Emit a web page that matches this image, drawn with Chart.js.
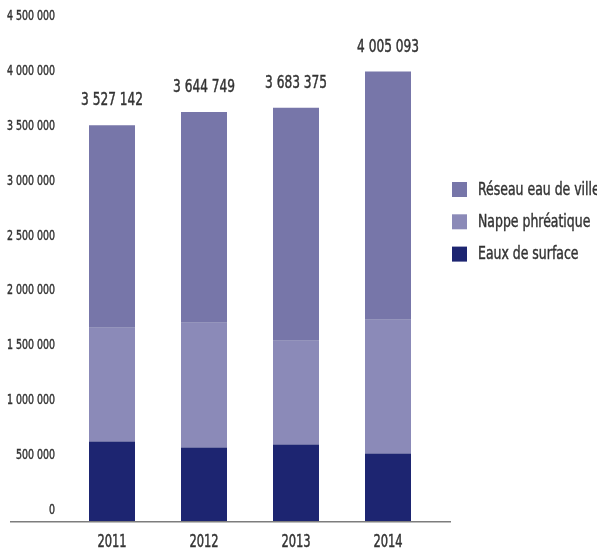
<!DOCTYPE html>
<html lang="fr">
<head>
  <meta charset="UTF-8">
  <script src="https://cdn.jsdelivr.net/npm/chart.js"></script>
  <title>Consommation d'eau</title>
  <style>
    body {
      margin: 0;
      padding: 0;
      background-color: #fff;
      overflow: hidden;
    }
    canvas {
      display: block;
    }
  </style>
</head>
<body>
<canvas id="waterChart" width="597" height="551"></canvas>

<script>
  // Water volumes per year (m3), stacked bottom to top
  const years = ['2011', '2012', '2013', '2014'];
  const totals = [3527142, 3644749, 3683375, 4005093];
  const eauxSurface = [708000, 654000, 681000, 601000];
  const nappePhreatique = [1015000, 1113000, 926000, 1193000];
  const reseauVille = [1804142, 1877749, 2076375, 2211093];
  const yTicks = [0, 500000, 1000000, 1500000, 2000000, 2500000, 3000000, 3500000, 4000000, 4500000];

  const textColor = '#333333';
  const fontFamily = "'DejaVu Sans Condensed', 'DejaVu Sans', sans-serif";
  const squeeze = 0.75; // narrow lettering

  function formatNumber(v) {
    return Math.round(v).toString().replace(/\B(?=(\d{3})+(?!\d))/g, ' ');
  }

  // draws horizontally squeezed text, slightly thickened
  function drawText(ctx, text, x, y, size, align) {
    ctx.save();
    ctx.translate(x, y);
    ctx.scale(squeeze, 1);
    ctx.font = size + 'px ' + fontFamily;
    ctx.fillStyle = textColor;
    ctx.strokeStyle = textColor;
    ctx.lineWidth = 0.45;
    ctx.textAlign = align;
    ctx.textBaseline = 'middle';
    ctx.fillText(text, 0, 0);
    ctx.strokeText(text, 0, 0);
    ctx.restore();
  }

  // Axis labels, taken from the scales
  const axisLabelsPlugin = {
    id: 'axisLabels',
    afterDraw(chart) {
      const ctx = chart.ctx;
      const yl = chart.scales.yl;
      const x = chart.scales.x;
      yl.ticks.forEach(t => {
        drawText(ctx, formatNumber(t.value), chart.chartArea.left - 11, yl.getPixelForValue(t.value), 14, 'right');
      });
      chart.data.labels.forEach((label, i) => {
        drawText(ctx, label, x.getPixelForTick(i), chart.chartArea.bottom + 22, 17, 'center');
      });
    }
  };

  // Totals written above each stack
  const totalsPlugin = {
    id: 'totals',
    afterDatasetsDraw(chart) {
      const yScale = chart.scales.y;
      const meta = chart.getDatasetMeta(chart.data.datasets.length - 1);
      totals.forEach((total, i) => {
        drawText(chart.ctx, formatNumber(total), meta.data[i].x, yScale.getPixelForValue(total) - 24.5, 18, 'center');
      });
    }
  };

  // Base line under the bars, wider than the plot area
  const baseLinePlugin = {
    id: 'baseLine',
    afterDatasetsDraw(chart) {
      const ctx = chart.ctx;
      const area = chart.chartArea;
      const y0 = chart.scales.y.getPixelForValue(0);
      ctx.save();
      ctx.strokeStyle = '#7d7d7d';
      ctx.lineWidth = 1.5;
      ctx.beginPath();
      ctx.moveTo(area.left - 56, y0 + 0.75);
      ctx.lineTo(area.right + 17, y0 + 0.75);
      ctx.stroke();
      ctx.restore();
    }
  };

  // Legend on the right, top series first
  const sideLegendPlugin = {
    id: 'sideLegend',
    afterDraw(chart) {
      const ctx = chart.ctx;
      const x = chart.chartArea.right + 18;
      chart.data.datasets.slice().reverse().forEach((ds, i) => {
        const y = 189.5 + i * 32.3;
        ctx.fillStyle = ds.backgroundColor;
        ctx.fillRect(x, y - 7.5, 15, 15);
        drawText(ctx, ds.label, x + 26, y + 0.5, 18.5, 'left');
      });
    }
  };

  const ctx = document.getElementById('waterChart').getContext('2d');
  const waterChart = new Chart(ctx, {
    type: 'bar',
    data: {
      labels: years,
      datasets: [
        {
          label: 'Eaux de surface',
          data: eauxSurface,
          backgroundColor: '#1d2571',
        },
        {
          label: 'Nappe phréatique',
          data: nappePhreatique,
          backgroundColor: '#8b8ab8',
        },
        {
          label: 'Réseau eau de ville',
          data: reseauVille,
          backgroundColor: '#7776a9',
        },
      ],
    },
    plugins: [baseLinePlugin, totalsPlugin, axisLabelsPlugin, sideLegendPlugin],
    options: {
      responsive: false,
      animation: false,
      devicePixelRatio: 1,
      layout: {
        padding: { top: 16, right: 163, bottom: 0, left: 0 },
      },
      datasets: {
        bar: {
          barPercentage: 0.5,
          categoryPercentage: 1,
        },
      },
      plugins: {
        legend: { display: false },
        tooltip: { enabled: false },
      },
      scales: {
        x: {
          stacked: true,
          grid: { display: false, drawTicks: false },
          border: { display: false },
          ticks: { display: false },
          afterFit: s => { s.height = 30; },
        },
        // scale used by the bars
        y: {
          stacked: true,
          display: false,
          min: 0,
          max: 4500000,
        },
        // scale carrying the printed tick labels
        yl: {
          position: 'left',
          min: -100000,
          max: 4505000,
          grid: { display: false, drawTicks: false },
          border: { display: false },
          ticks: { display: false },
          afterBuildTicks: s => { s.ticks = yTicks.map(v => ({ value: v })); },
          afterFit: s => { s.width = 66; },
        },
      },
    },
  });
</script>
</body>
</html>
